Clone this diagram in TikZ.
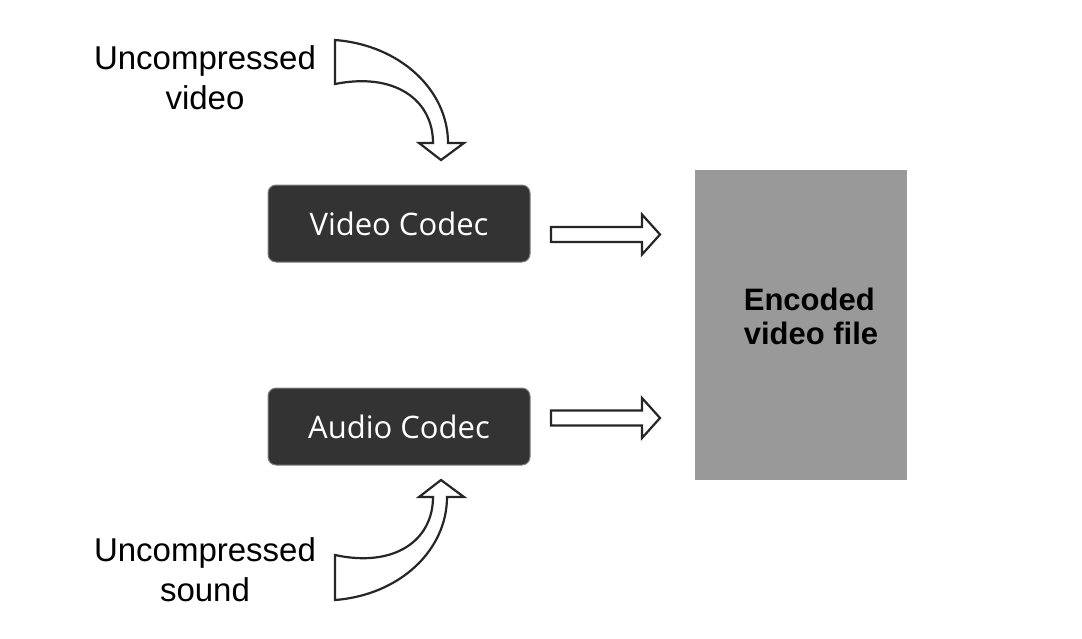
\documentclass[tikz,border=0pt]{standalone}
\usepackage{fontspec}
\setmainfont{Liberation Sans}
\newfontfamily\codecfont{Open Sans}
\begin{document}
\begin{tikzpicture}[x=1pt,y=-1pt,
  hollow/.style={draw=black!85,line width=2.2pt,fill=white,line join=miter},
  codec/.style={draw=black!50,fill=black!80,rounded corners=8pt,line width=1pt,minimum width=262pt,minimum height=77pt,text=white,font=\codecfont\fontsize{31}{36}\selectfont},
  lbl/.style={font=\fontsize{33}{40}\selectfont,align=center}]
\useasboundingbox (0,0) rectangle (1082,638);
\node[codec] (vc) at (399,223.5) {Video Codec};
\node[codec] (ac) at (399,426.5) {Audio Codec};
\node[fill=black!40,minimum width=212pt,minimum height=310pt,inner sep=0] (file) at (801,325) {};
\node[font=\bfseries\fontsize{31}{34}\selectfont,align=left] (ft) at (811,316) {Encoded\\video file};
\node[lbl] (uv) at (205,78) {Uncompressed\\video};
\node[lbl] (us) at (205,570) {Uncompressed\\sound};
% curved arrows
\draw[hollow] (335,40) .. controls (400,45) and (448,90) .. (448,143) -- (464,143) -- (441,160) -- (419,143) -- (433,143) .. controls (433,100) and (395,72) .. (335,84) -- cycle;
\draw[hollow] (335,600) .. controls (400,595) and (447,550) .. (447,497) -- (464,497) -- (441,480) -- (419,497) -- (433,497) .. controls (433,540) and (395,568) .. (335,555) -- cycle;
% straight arrows
\foreach \y/\n in {234.5/a1,418/a2}{
 \draw[hollow] (551,\y-7.5) -- (642,\y-7.5) -- (642,\y-20) -- (660,\y) -- (642,\y+20) -- (642,\y+7.5) -- (551,\y+7.5) -- cycle;
}
\end{tikzpicture}
\end{document}
